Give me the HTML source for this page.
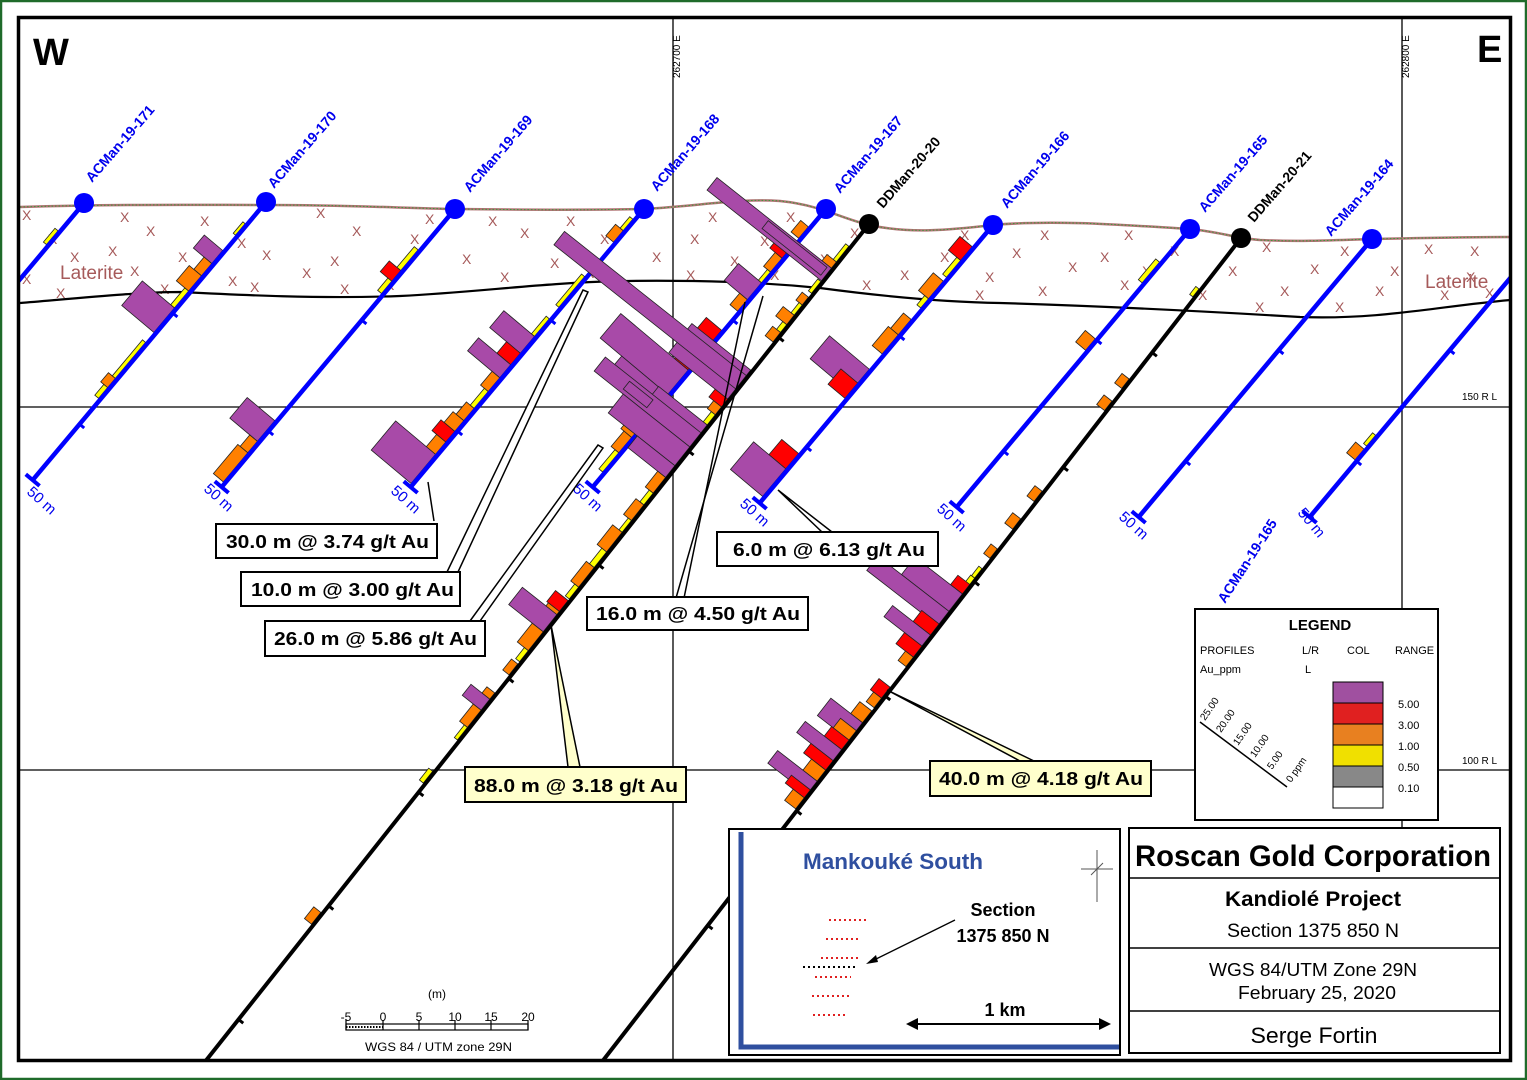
<!DOCTYPE html>
<html><head><meta charset="utf-8"><style>
html,body{margin:0;padding:0;background:#fff;}
svg{display:block;font-family:"Liberation Sans",sans-serif;}
.b rect{stroke:#222;stroke-width:0.8;}
.P{fill:#a84aa8}.R{fill:#ff0000}.O{fill:#ff8000}.Y{fill:#ffff00}
.hn{font-weight:bold;font-size:14px;fill:#0000ee;}
.dn{font-weight:bold;font-size:14px;fill:#000;}
.fm{font-size:15px;fill:#0000ee;}
.x{font-size:14px;fill:#a65a5a;}
.cb{font-weight:bold;font-size:18px;fill:#000;}
</style></head><body>
<svg width="1527" height="1080" viewBox="0 0 1527 1080" xmlns="http://www.w3.org/2000/svg">
<defs><clipPath id="fr"><rect x="20" y="19" width="1489" height="1040"/></clipPath></defs>
<rect x="0" y="0" width="1527" height="1080" fill="#fff"/>
<rect x="1" y="1" width="1525" height="1078" fill="none" stroke="#1f6b2a" stroke-width="2.5"/>

<g clip-path="url(#fr)">
<!-- grid -->
<line x1="673" y1="19" x2="673" y2="1060" stroke="#000" stroke-width="1.3"/>
<line x1="1402" y1="19" x2="1402" y2="830" stroke="#000" stroke-width="1.3"/>
<line x1="20" y1="407" x2="1510" y2="407" stroke="#000" stroke-width="1.3"/>
<line x1="20" y1="770" x2="1510" y2="770" stroke="#000" stroke-width="1.3"/>
<text x="680" y="78" font-size="10" transform="rotate(-90 680 78)">262700 E</text>
<text x="1409" y="78" font-size="10" transform="rotate(-90 1409 78)">262800 E</text>
<text x="1462" y="400" font-size="10">150 R L</text>
<text x="1462" y="764" font-size="10">100 R L</text>

<!-- laterite X marks -->
<g class="x">
<text x="22" y="220">X</text><text x="120" y="222">X</text><text x="200" y="226">X</text><text x="316" y="218">X</text><text x="425" y="224">X</text><text x="488" y="226">X</text><text x="566" y="226">X</text><text x="708" y="222">X</text><text x="786" y="222">X</text><text x="960" y="240">X</text><text x="1040" y="240">X</text><text x="1124" y="240">X</text>
<text x="48" y="244">X</text><text x="146" y="236">X</text><text x="237" y="248">X</text><text x="352" y="236">X</text><text x="410" y="244">X</text><text x="520" y="238">X</text><text x="600" y="244">X</text><text x="690" y="244">X</text><text x="760" y="246">X</text><text x="850" y="238">X</text><text x="940" y="262">X</text><text x="1012" y="258">X</text><text x="1100" y="262">X</text><text x="1170" y="256">X</text><text x="1262" y="252">X</text><text x="1340" y="256">X</text><text x="1424" y="254">X</text><text x="1470" y="256">X</text>
<text x="70" y="262">X</text><text x="108" y="256">X</text><text x="178" y="262">X</text><text x="262" y="260">X</text><text x="330" y="266">X</text><text x="462" y="264">X</text><text x="550" y="268">X</text><text x="652" y="262">X</text><text x="730" y="266">X</text><text x="820" y="264">X</text><text x="900" y="280">X</text><text x="985" y="282">X</text><text x="1068" y="272">X</text><text x="1142" y="276">X</text><text x="1228" y="276">X</text><text x="1310" y="274">X</text><text x="1390" y="276">X</text><text x="1466" y="282">X</text>
<text x="22" y="284">X</text><text x="130" y="276">X</text><text x="228" y="286">X</text><text x="302" y="278">X</text><text x="385" y="290">X</text><text x="500" y="282">X</text><text x="585" y="278">X</text><text x="686" y="280">X</text><text x="770" y="280">X</text><text x="862" y="290">X</text><text x="1038" y="296">X</text><text x="1120" y="290">X</text><text x="1198" y="300">X</text><text x="1280" y="296">X</text><text x="1375" y="296">X</text><text x="1440" y="300">X</text>
<text x="56" y="298">X</text><text x="160" y="294">X</text><text x="250" y="292">X</text><text x="340" y="294">X</text><text x="975" y="300">X</text><text x="1255" y="312">X</text><text x="1335" y="312">X</text><text x="1485" y="298">X</text>
</g>
<text x="60" y="279" font-size="19" fill="#a65a5a">Laterite</text>
<text x="1425" y="288" font-size="19" fill="#a65a5a">Laterite</text>

<!-- laterite lines -->
<path d="M20,207 C120,204 200,205 266,205 C350,205 400,208 455,209 C540,210 600,210 644,209 C700,206 740,198 780,201 C820,205 840,218 869,225 C910,234 950,230 993,225 C1050,220 1110,224 1190,229 C1220,232 1235,238 1260,240 C1300,242 1340,240 1372,239 C1420,238 1470,237 1510,237" fill="none" stroke="#b07474" stroke-width="2.5"/>
<path d="M20,207 C120,204 200,205 266,205 C350,205 400,208 455,209 C540,210 600,210 644,209 C700,206 740,198 780,201 C820,205 840,218 869,225 C910,234 950,230 993,225 C1050,220 1110,224 1190,229 C1220,232 1235,238 1260,240 C1300,242 1340,240 1372,239 C1420,238 1470,237 1510,237" fill="none" stroke="#3a9a3a" stroke-width="1" stroke-dasharray="1.5,2"/>
<path d="M20,303 C80,298 140,292 180,292 C240,295 320,299 400,296 C480,292 540,283 620,281 C700,280 760,282 820,288 C880,296 940,302 1000,303 C1100,306 1200,311 1300,317 C1380,320 1440,306 1510,300" fill="none" stroke="#000" stroke-width="2.2"/>

<!-- Hole 171 -->
<g transform="translate(84,203) rotate(130)" class="b">
<rect x="38" y="2" width="18" height="4" class="Y"/>
<line x1="0" y1="0" x2="363" y2="0" stroke="#0000ff" stroke-width="4.5"/>
</g>
<!-- Hole 170 -->
<g transform="translate(266,202) rotate(130)" class="b">
<rect x="30" y="2" width="15" height="3" class="Y"/>
<rect x="65" y="2" width="17" height="24" class="P"/>
<rect x="82" y="2" width="16" height="10" class="O"/>
<rect x="98" y="2" width="20" height="16" class="O"/>
<rect x="118" y="2" width="22" height="5" class="Y"/>
<rect x="140" y="2" width="32" height="42" class="P"/>
<rect x="185" y="2" width="47" height="4" class="Y"/>
<rect x="232" y="2" width="12" height="9" class="O"/>
<rect x="244" y="2" width="14" height="5" class="Y"/>
<line x1="0" y1="0" x2="363" y2="0" stroke="#0000ff" stroke-width="4.5"/>
<line x1="363" y1="-9" x2="363" y2="9" stroke="#0000ff" stroke-width="4"/>
<line x1="145" y1="0" x2="145" y2="-6" stroke="#0000ff" stroke-width="3"/><line x1="290" y1="0" x2="290" y2="-6" stroke="#0000ff" stroke-width="3"/>
</g>
<!-- Hole 169 -->
<g transform="translate(455,209) rotate(130)" class="b">
<rect x="55" y="2" width="27" height="5" class="Y"/>
<rect x="82" y="2" width="14" height="15" class="R"/>
<rect x="96" y="2" width="16" height="5" class="Y"/>
<rect x="278" y="2" width="27" height="36" class="P"/>
<rect x="305" y="2" width="15" height="10" class="O"/>
<rect x="320" y="2" width="38" height="13" class="O"/>
<line x1="0" y1="0" x2="363" y2="0" stroke="#0000ff" stroke-width="4.5"/>
<line x1="363" y1="-9" x2="363" y2="9" stroke="#0000ff" stroke-width="4"/>
<line x1="145" y1="0" x2="145" y2="-6" stroke="#0000ff" stroke-width="3"/><line x1="290" y1="0" x2="290" y2="-6" stroke="#0000ff" stroke-width="3"/>
</g>
<!-- Hole 168 -->
<g transform="translate(644,209) rotate(130)" class="b">
<rect x="15" y="2" width="15" height="4" class="Y"/>
<rect x="30" y="2" width="15" height="10" class="O"/>
<rect x="90" y="2" width="40" height="4" class="Y"/>
<rect x="145" y="2" width="23" height="4" class="Y"/>
<rect x="168" y="2" width="22" height="40" class="P"/>
<rect x="190" y="2" width="15" height="18" class="R"/>
<rect x="205" y="2" width="17" height="42" class="P"/>
<rect x="222" y="2" width="18" height="10" class="O"/>
<rect x="240" y="2" width="22" height="5" class="Y"/>
<rect x="262" y="2" width="16" height="10" class="O"/>
<rect x="278" y="2" width="14" height="14" class="O"/>
<rect x="292" y="2" width="14" height="18" class="R"/>
<rect x="306" y="2" width="16" height="12" class="O"/>
<rect x="322" y="2" width="38" height="52" class="P"/>
<line x1="0" y1="0" x2="363" y2="0" stroke="#0000ff" stroke-width="4.5"/>
<line x1="363" y1="-9" x2="363" y2="9" stroke="#0000ff" stroke-width="4"/>
<line x1="145" y1="0" x2="145" y2="-6" stroke="#0000ff" stroke-width="3"/><line x1="290" y1="0" x2="290" y2="-6" stroke="#0000ff" stroke-width="3"/>
</g>
<!-- Hole 167 -->
<g transform="translate(826,209) rotate(130)" class="b">
<rect x="25" y="2" width="15" height="10" class="O"/>
<rect x="47" y="2" width="19" height="16" class="R"/>
<rect x="66" y="2" width="18" height="9" class="O"/>
<rect x="84" y="2" width="14" height="4" class="Y"/>
<rect x="98" y="2" width="22" height="30" class="P"/>
<rect x="120" y="2" width="15" height="10" class="O"/>
<rect x="160" y="2" width="24" height="20" class="R"/>
<rect x="184" y="2" width="11" height="8" class="O"/>
<rect x="198" y="2" width="14" height="18" class="R"/>
<rect x="212" y="2" width="32" height="88" class="P"/>
<rect x="244" y="2" width="20" height="60" class="P"/>
<rect x="264" y="2" width="16" height="30" class="P"/>
<rect x="280" y="2" width="20" height="14" class="O"/>
<rect x="300" y="2" width="20" height="10" class="O"/>
<rect x="320" y="2" width="25" height="5" class="Y"/>
<line x1="0" y1="0" x2="363" y2="0" stroke="#0000ff" stroke-width="4.5"/>
<line x1="363" y1="-9" x2="363" y2="9" stroke="#0000ff" stroke-width="4"/>
<line x1="145" y1="0" x2="145" y2="-6" stroke="#0000ff" stroke-width="3"/><line x1="290" y1="0" x2="290" y2="-6" stroke="#0000ff" stroke-width="3"/>
</g>
<!-- DDMan-20-20 -->
<g transform="translate(869,224) rotate(128.4)" class="b">
<rect x="30" y="2" width="20" height="4" class="Y"/>
<rect x="50" y="2" width="8" height="12" class="O"/>
<rect x="58" y="2" width="16" height="146" class="P"/>
<rect x="60" y="6" width="10" height="75" fill="none"/>
<rect x="75" y="2" width="15" height="4" class="Y"/>
<rect x="95" y="2" width="10" height="8" class="O"/>
<rect x="105" y="2" width="13" height="4" class="Y"/>
<rect x="118" y="2" width="12" height="14" class="O"/>
<rect x="130" y="2" width="10" height="5" class="Y"/>
<rect x="140" y="2" width="12" height="10" class="O"/>
<rect x="188" y="2" width="37" height="75" class="P"/>
<rect x="195" y="2" width="17" height="232" class="P"/>
<rect x="225" y="2" width="10" height="16" class="R"/>
<rect x="235" y="2" width="10" height="10" class="O"/>
<rect x="245" y="2" width="13" height="5" class="Y"/>
<rect x="258" y="2" width="15" height="62" class="P"/>
<rect x="268" y="2" width="18" height="122" class="P"/>
<rect x="286" y="2" width="24" height="85" class="P"/>
<rect x="272" y="60" width="10" height="30" fill="none"/>
<rect x="310" y="2" width="15" height="48" class="P"/>
<rect x="325" y="2" width="20" height="10" class="O"/>
<rect x="345" y="2" width="15" height="5" class="Y"/>
<rect x="360" y="2" width="20" height="10" class="O"/>
<rect x="380" y="2" width="15" height="4" class="Y"/>
<rect x="395" y="2" width="25" height="12" class="O"/>
<rect x="420" y="2" width="20" height="6" class="Y"/>
<rect x="440" y="2" width="25" height="10" class="O"/>
<rect x="465" y="2" width="15" height="5" class="Y"/>
<rect x="482" y="2" width="14" height="16" class="R"/>
<rect x="496" y="2" width="12" height="14" class="O"/>
<rect x="500" y="2" width="22" height="44" class="P"/>
<rect x="522" y="2" width="24" height="14" class="O"/>
<rect x="546" y="2" width="14" height="5" class="Y"/>
<rect x="563" y="2" width="14" height="8" class="O"/>
<rect x="600" y="2" width="8" height="10" class="O"/>
<rect x="608" y="2" width="14" height="24" class="P"/>
<rect x="622" y="2" width="22" height="10" class="O"/>
<rect x="644" y="2" width="16" height="4" class="Y"/>
<rect x="700" y="2" width="15" height="5" class="Y"/>
<rect x="880" y="2" width="15" height="9" class="O"/>
<line x1="0" y1="0" x2="1070" y2="0" stroke="#000" stroke-width="4"/>
<line x1="145" y1="0" x2="145" y2="-6" stroke="#000" stroke-width="3"/><line x1="290" y1="0" x2="290" y2="-6" stroke="#000" stroke-width="3"/><line x1="435" y1="0" x2="435" y2="-6" stroke="#000" stroke-width="3"/><line x1="580" y1="0" x2="580" y2="-6" stroke="#000" stroke-width="3"/><line x1="725" y1="0" x2="725" y2="-6" stroke="#000" stroke-width="3"/><line x1="870" y1="0" x2="870" y2="-6" stroke="#000" stroke-width="3"/><line x1="1015" y1="0" x2="1015" y2="-6" stroke="#000" stroke-width="3"/>
</g>
<!-- Hole 166 -->
<g transform="translate(993,225) rotate(130)" class="b">
<rect x="30" y="2" width="18" height="16" class="R"/>
<rect x="48" y="2" width="22" height="5" class="Y"/>
<rect x="75" y="2" width="23" height="13" class="O"/>
<rect x="98" y="2" width="12" height="5" class="Y"/>
<rect x="125" y="2" width="20" height="10" class="O"/>
<rect x="145" y="2" width="25" height="13" class="O"/>
<rect x="190" y="2" width="30" height="52" class="P"/>
<rect x="208" y="2" width="20" height="22" class="R"/>
<rect x="300" y="2" width="20" height="22" class="R"/>
<rect x="320" y="2" width="36" height="42" class="P"/>
<line x1="0" y1="0" x2="363" y2="0" stroke="#0000ff" stroke-width="4.5"/>
<line x1="363" y1="-9" x2="363" y2="9" stroke="#0000ff" stroke-width="4"/>
<line x1="145" y1="0" x2="145" y2="-6" stroke="#0000ff" stroke-width="3"/><line x1="290" y1="0" x2="290" y2="-6" stroke="#0000ff" stroke-width="3"/>
</g>
<!-- Hole 165 -->
<g transform="translate(1190,229) rotate(130)" class="b">
<rect x="45" y="2" width="27" height="5" class="Y"/>
<rect x="145" y="2" width="15" height="13" class="O"/>
<line x1="0" y1="0" x2="363" y2="0" stroke="#0000ff" stroke-width="4.5"/>
<line x1="363" y1="-9" x2="363" y2="9" stroke="#0000ff" stroke-width="4"/>
<line x1="145" y1="0" x2="145" y2="-6" stroke="#0000ff" stroke-width="3"/><line x1="290" y1="0" x2="290" y2="-6" stroke="#0000ff" stroke-width="3"/>
</g>
<!-- DDMan-20-21 -->
<g transform="translate(1241,238) rotate(127.8)" class="b">
<rect x="66" y="2" width="10" height="4" class="Y"/>
<rect x="180" y="2" width="12" height="9" class="O"/>
<rect x="208" y="2" width="12" height="10" class="O"/>
<rect x="322" y="2" width="13" height="9" class="O"/>
<rect x="357" y="2" width="13" height="10" class="O"/>
<rect x="395" y="2" width="12" height="8" class="O"/>
<rect x="420" y="2" width="12" height="4" class="Y"/>
<rect x="432" y="2" width="10" height="5" class="Y"/>
<rect x="440" y="2" width="12" height="15" class="R"/>
<rect x="452" y="2" width="22" height="60" class="P"/>
<rect x="474" y="2" width="18" height="90" class="P"/>
<rect x="490" y="2" width="14" height="22" class="R"/>
<rect x="504" y="2" width="14" height="48" class="P"/>
<rect x="518" y="2" width="14" height="22" class="R"/>
<rect x="532" y="2" width="12" height="10" class="O"/>
<rect x="570" y="2" width="14" height="14" class="R"/>
<rect x="584" y="2" width="12" height="10" class="O"/>
<rect x="600" y="2" width="15" height="15" class="O"/>
<rect x="615" y="2" width="22" height="40" class="P"/>
<rect x="625" y="2" width="12" height="20" class="O"/>
<rect x="637" y="2" width="12" height="22" class="R"/>
<rect x="649" y="2" width="14" height="46" class="P"/>
<rect x="663" y="2" width="12" height="28" class="R"/>
<rect x="675" y="2" width="14" height="18" class="O"/>
<rect x="689" y="2" width="16" height="50" class="P"/>
<rect x="700" y="2" width="10" height="24" class="R"/>
<rect x="710" y="2" width="14" height="14" class="O"/>
<line x1="0" y1="0" x2="1050" y2="0" stroke="#000" stroke-width="4"/>
<line x1="145" y1="0" x2="145" y2="-6" stroke="#000" stroke-width="3"/><line x1="290" y1="0" x2="290" y2="-6" stroke="#000" stroke-width="3"/><line x1="435" y1="0" x2="435" y2="-6" stroke="#000" stroke-width="3"/><line x1="580" y1="0" x2="580" y2="-6" stroke="#000" stroke-width="3"/><line x1="725" y1="0" x2="725" y2="-6" stroke="#000" stroke-width="3"/><line x1="870" y1="0" x2="870" y2="-6" stroke="#000" stroke-width="3"/>
</g>
<!-- Hole 164 -->
<g transform="translate(1372,239) rotate(130)" class="b">
<line x1="0" y1="0" x2="363" y2="0" stroke="#0000ff" stroke-width="4.5"/>
<line x1="363" y1="-9" x2="363" y2="9" stroke="#0000ff" stroke-width="4"/>
<line x1="145" y1="0" x2="145" y2="-6" stroke="#0000ff" stroke-width="3"/><line x1="290" y1="0" x2="290" y2="-6" stroke="#0000ff" stroke-width="3"/>
</g>
<!-- adjacent hole far right -->
<g transform="translate(1543,239) rotate(130)" class="b">
<rect x="258" y="2" width="14" height="4" class="Y"/>
<rect x="276" y="2" width="14" height="11" class="O"/>
<line x1="0" y1="0" x2="363" y2="0" stroke="#0000ff" stroke-width="4.5"/>
<line x1="363" y1="-9" x2="363" y2="9" stroke="#0000ff" stroke-width="4"/>
<line x1="145" y1="0" x2="145" y2="-6" stroke="#0000ff" stroke-width="3"/><line x1="290" y1="0" x2="290" y2="-6" stroke="#0000ff" stroke-width="3"/>
</g>

<!-- collars -->
<g fill="#0000ff">
<circle cx="84" cy="203" r="10"/><circle cx="266" cy="202" r="10"/><circle cx="455" cy="209" r="10"/><circle cx="644" cy="209" r="10"/><circle cx="826" cy="209" r="10"/><circle cx="993" cy="225" r="10"/><circle cx="1190" cy="229" r="10"/><circle cx="1372" cy="239" r="10"/>
</g>
<circle cx="869" cy="224" r="10" fill="#000"/><circle cx="1241" cy="238" r="10" fill="#000"/>

<!-- hole names -->
<text class="hn" x="92" y="183" transform="rotate(-49 92 183)">ACMan-19-171</text>
<text class="hn" x="274" y="189" transform="rotate(-49 274 189)">ACMan-19-170</text>
<text class="hn" x="470" y="193" transform="rotate(-49 470 193)">ACMan-19-169</text>
<text class="hn" x="657" y="192" transform="rotate(-49 657 192)">ACMan-19-168</text>
<text class="hn" x="840" y="194" transform="rotate(-49 840 194)">ACMan-19-167</text>
<text class="dn" x="883" y="209" transform="rotate(-49 883 209)">DDMan-20-20</text>
<text class="hn" x="1007" y="209" transform="rotate(-49 1007 209)">ACMan-19-166</text>
<text class="hn" x="1205" y="213" transform="rotate(-49 1205 213)">ACMan-19-165</text>
<text class="dn" x="1254" y="223" transform="rotate(-49 1254 223)">DDMan-20-21</text>
<text class="hn" x="1331" y="237" transform="rotate(-49 1331 237)">ACMan-19-164</text>
<text class="hn" x="1225" y="604" transform="rotate(-57 1225 604)">ACMan-19-165</text>

<!-- 50 m labels -->
<text class="fm" x="26" y="493" transform="rotate(42 26 493)">50 m</text>
<text class="fm" x="203" y="490" transform="rotate(42 203 490)">50 m</text>
<text class="fm" x="390" y="492" transform="rotate(42 390 492)">50 m</text>
<text class="fm" x="572" y="490" transform="rotate(42 572 490)">50 m</text>
<text class="fm" x="739" y="505" transform="rotate(42 739 505)">50 m</text>
<text class="fm" x="936" y="510" transform="rotate(42 936 510)">50 m</text>
<text class="fm" x="1118" y="518" transform="rotate(42 1118 518)">50 m</text>
<text class="fm" x="1297" y="513" transform="rotate(50 1297 513)">50 m</text>

<!-- pointers -->
<polyline points="428,482 434,521" fill="none" stroke="#000" stroke-width="1.5"/>
<polygon points="447,572 583,290 588,292 458,572" fill="#fff" stroke="#000" stroke-width="1.5"/>
<polygon points="470,621 598,445 603,448 480,621" fill="#fff" stroke="#000" stroke-width="1.5"/>
<polyline points="676,598 763,296" fill="none" stroke="#000" stroke-width="1.5"/>
<polyline points="684,598 745,302" fill="none" stroke="#000" stroke-width="1.5"/>
<polygon points="778,490 822,532 832,532" fill="#fff" stroke="#000" stroke-width="1.5"/>
<polygon points="551,625 568,767 580,767" fill="#ffffcc" stroke="#000" stroke-width="1.5"/>
<polygon points="887,690 1020,761 1034,761" fill="#ffffcc" stroke="#000" stroke-width="1.5"/>
</g>

<!-- callouts -->
<rect x="216" y="524" width="221" height="34" fill="#fff" stroke="#000" stroke-width="2"/>
<text class="cb" x="226" y="548" textLength="203" lengthAdjust="spacingAndGlyphs">30.0 m @ 3.74 g/t Au</text>
<rect x="241" y="572" width="219" height="34" fill="#fff" stroke="#000" stroke-width="2"/>
<text class="cb" x="251" y="596" textLength="203" lengthAdjust="spacingAndGlyphs">10.0 m @ 3.00 g/t Au</text>
<rect x="265" y="621" width="220" height="35" fill="#fff" stroke="#000" stroke-width="2"/>
<text class="cb" x="274" y="645" textLength="203" lengthAdjust="spacingAndGlyphs">26.0 m @ 5.86 g/t Au</text>
<rect x="587" y="597" width="221" height="33" fill="#fff" stroke="#000" stroke-width="2"/>
<text class="cb" x="596" y="620" textLength="204" lengthAdjust="spacingAndGlyphs">16.0 m @ 4.50 g/t Au</text>
<rect x="717" y="532" width="221" height="34" fill="#fff" stroke="#000" stroke-width="2"/>
<text class="cb" x="733" y="556" textLength="192" lengthAdjust="spacingAndGlyphs">6.0 m @ 6.13 g/t Au</text>
<rect x="465" y="767" width="221" height="35" fill="#ffffcc" stroke="#000" stroke-width="2"/>
<text class="cb" x="474" y="792" textLength="204" lengthAdjust="spacingAndGlyphs">88.0 m @ 3.18 g/t Au</text>
<rect x="930" y="761" width="221" height="35" fill="#ffffcc" stroke="#000" stroke-width="2"/>
<text class="cb" x="939" y="785" textLength="204" lengthAdjust="spacingAndGlyphs">40.0 m @ 4.18 g/t Au</text>

<!-- W / E -->
<text x="33" y="65" font-size="38" font-weight="bold">W</text>
<text x="1477" y="62" font-size="38" font-weight="bold">E</text>

<!-- scale bar -->
<text x="428" y="998" font-size="12">(m)</text>
<g font-size="12" text-anchor="middle">
<text x="346" y="1021">-5</text><text x="383" y="1021">0</text><text x="419" y="1021">5</text><text x="455" y="1021">10</text><text x="491" y="1021">15</text><text x="528" y="1021">20</text>
</g>
<rect x="346" y="1024" width="182" height="6" fill="#fff" stroke="#000" stroke-width="1.2"/>
<line x1="346" y1="1027" x2="383" y2="1027" stroke="#000" stroke-width="2" stroke-dasharray="1.5,1.5"/>
<g stroke="#000" stroke-width="1.2"><line x1="383" y1="1020" x2="383" y2="1030"/><line x1="419" y1="1020" x2="419" y2="1030"/><line x1="455" y1="1020" x2="455" y2="1030"/><line x1="491" y1="1020" x2="491" y2="1030"/><line x1="346" y1="1020" x2="346" y2="1030"/><line x1="528" y1="1020" x2="528" y2="1030"/></g>
<text x="365" y="1051" font-size="12" textLength="147" lengthAdjust="spacingAndGlyphs">WGS 84 / UTM zone 29N</text>

<!-- legend -->
<rect x="1195" y="609" width="243" height="211" fill="#fff" stroke="#000" stroke-width="2"/>
<text x="1320" y="630" font-size="15" font-weight="bold" text-anchor="middle">LEGEND</text>
<g font-size="11"><text x="1200" y="654">PROFILES</text><text x="1302" y="654">L/R</text><text x="1347" y="654">COL</text><text x="1395" y="654">RANGE</text><text x="1200" y="673">Au_ppm</text><text x="1305" y="673">L</text></g>
<g stroke="#000" stroke-width="1">
<rect x="1333" y="682" width="50" height="21" fill="#a050a0"/>
<rect x="1333" y="703" width="50" height="21" fill="#e02020"/>
<rect x="1333" y="724" width="50" height="21" fill="#e88020"/>
<rect x="1333" y="745" width="50" height="21" fill="#f0e000"/>
<rect x="1333" y="766" width="50" height="21" fill="#888"/>
<rect x="1333" y="787" width="50" height="21" fill="#fff"/>
</g>
<g font-size="11"><text x="1398" y="708">5.00</text><text x="1398" y="729">3.00</text><text x="1398" y="750">1.00</text><text x="1398" y="771">0.50</text><text x="1398" y="792">0.10</text></g>
<line x1="1200" y1="722" x2="1287" y2="787" stroke="#000" stroke-width="1.5"/>
<g font-size="10">
<text x="1205" y="721" transform="rotate(-55 1205 721)">25.00</text>
<text x="1221" y="733" transform="rotate(-55 1221 733)">20.00</text>
<text x="1238" y="746" transform="rotate(-55 1238 746)">15.00</text>
<text x="1255" y="758" transform="rotate(-55 1255 758)">10.00</text>
<text x="1272" y="770" transform="rotate(-55 1272 770)">5.00</text>
<text x="1291" y="783" transform="rotate(-55 1291 783)">0 ppm</text>
</g>

<!-- inset map -->
<rect x="729" y="829" width="391" height="226" fill="#fff" stroke="#000" stroke-width="2"/>
<polyline points="741,832 741,1047 1119,1047" fill="none" stroke="#2f4f9f" stroke-width="5"/>
<text x="803" y="869" font-size="22" font-weight="bold" fill="#2f4f9f" textLength="180" lengthAdjust="spacingAndGlyphs">Mankouké South</text>
<text x="1003" y="916" font-size="18" font-weight="bold" text-anchor="middle">Section</text>
<text x="1003" y="942" font-size="18" font-weight="bold" text-anchor="middle">1375 850 N</text>
<line x1="955" y1="920" x2="872" y2="961" stroke="#000" stroke-width="1.3"/>
<polygon points="866,964 876,955 878,962" fill="#000"/>
<g stroke-width="2" stroke-dasharray="2,3">
<line x1="829" y1="920" x2="866" y2="920" stroke="#e02020"/>
<line x1="826" y1="939" x2="861" y2="939" stroke="#e02020"/>
<line x1="821" y1="958" x2="858" y2="958" stroke="#e02020"/>
<line x1="803" y1="967" x2="858" y2="967" stroke="#000"/>
<line x1="815" y1="977" x2="851" y2="977" stroke="#e02020"/>
<line x1="812" y1="996" x2="849" y2="996" stroke="#e02020"/>
<line x1="813" y1="1015" x2="845" y2="1015" stroke="#e02020"/>
</g>
<text x="1005" y="1016" font-size="18" font-weight="bold" text-anchor="middle">1 km</text>
<line x1="912" y1="1024" x2="1104" y2="1024" stroke="#000" stroke-width="2"/>
<polygon points="906,1024 918,1018 918,1030" fill="#000"/>
<polygon points="1111,1024 1099,1018 1099,1030" fill="#000"/>
<g stroke="#555" stroke-width="1" fill="none"><line x1="1097" y1="850" x2="1097" y2="902"/><line x1="1081" y1="869" x2="1113" y2="869"/><path d="M1091,875 L1103,863"/></g>

<!-- title block -->
<rect x="1129" y="828" width="371" height="225" fill="#fff" stroke="#000" stroke-width="2"/>
<line x1="1129" y1="878" x2="1500" y2="878" stroke="#000" stroke-width="1.5"/>
<line x1="1129" y1="948" x2="1500" y2="948" stroke="#000" stroke-width="1.5"/>
<line x1="1129" y1="1011" x2="1500" y2="1011" stroke="#000" stroke-width="1.5"/>
<text x="1313" y="866" font-size="30" font-weight="bold" text-anchor="middle" textLength="356" lengthAdjust="spacingAndGlyphs">Roscan Gold Corporation</text>
<text x="1313" y="906" font-size="21" font-weight="bold" text-anchor="middle" textLength="176" lengthAdjust="spacingAndGlyphs">Kandiolé Project</text>
<text x="1313" y="937" font-size="19" text-anchor="middle" textLength="172" lengthAdjust="spacingAndGlyphs">Section 1375 850 N</text>
<text x="1313" y="976" font-size="18" text-anchor="middle" textLength="208" lengthAdjust="spacingAndGlyphs">WGS 84/UTM Zone 29N</text>
<text x="1317" y="999" font-size="18" text-anchor="middle" textLength="158" lengthAdjust="spacingAndGlyphs">February 25, 2020</text>
<text x="1314" y="1043" font-size="22" text-anchor="middle" textLength="127" lengthAdjust="spacingAndGlyphs">Serge Fortin</text>

<!-- frame -->
<rect x="18.5" y="17.5" width="1492" height="1043" fill="none" stroke="#000" stroke-width="3.5"/>
</svg>
</body></html>
